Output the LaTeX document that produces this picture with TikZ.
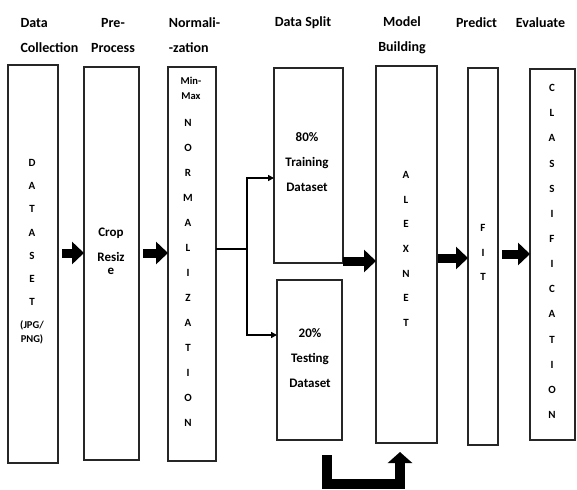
\documentclass[tikz,border=0pt]{standalone}
\usepackage{fontspec}
\setmainfont{Carlito}[UprightFont={* Bold}, BoldFont={* Bold}]
\usetikzlibrary{arrows.meta}
\begin{document}
\begin{tikzpicture}[x=1pt,y=-1pt,
  box/.style={draw=black!85, line width=1.3pt, inner sep=0pt, outer sep=0pt},
  hdr/.style={font=\fontsize{14}{25}\selectfont, inner sep=0pt},
  big/.style={font=\fontsize{13}{25}\selectfont, align=center, inner sep=0pt},
  small/.style={font=\fontsize{11}{25}\selectfont, align=center, inner sep=0pt},
  fat/.style={line width=9pt, -{Triangle[length=12pt,width=22pt]}},
  ufat/.style={line width=10pt, -{Triangle[length=11pt,width=24pt]}},
  thinarrow/.style={line width=1.8pt, -{Triangle[length=6pt,width=6pt]}}
]
\useasboundingbox (0,0) rectangle (577,489);
% headers
\node[hdr, align=left] (h1) at (49.5,35.5) {Data\\Collection};
\node[hdr, align=center] (h2) at (113,35.5) {Pre-\\Process};
\node[hdr, align=left] (h3) at (194.5,35.5) {Normali-\\-zation};
\node[hdr] (h4) at (303,23) {Data Split};
\node[hdr, align=center] (h5) at (402,35.5) {Model\\Building};
\node[hdr] (h6) at (476.5,23) {Predict};
\node[hdr] (h7) at (540.5,23) {Evaluate};
% boxes
\node[box, minimum width=50pt, minimum height=398pt] (ds) at (33,264) {};
\node[box, minimum width=55pt, minimum height=393pt] (crop) at (111.5,263.5) {};
\node[box, minimum width=48pt, minimum height=394pt] (norm) at (192,264) {};
\node[box, minimum width=69pt, minimum height=195pt] (train) at (308.5,165.5) {};
\node[box, minimum width=65pt, minimum height=160pt] (test) at (309.5,360) {};
\node[box, minimum width=61pt, minimum height=377pt] (alex) at (406.5,254.5) {};
\node[box, minimum width=30pt, minimum height=377pt] (fit) at (483,256.5) {};
\node[box, minimum width=45pt, minimum height=371pt] (cls) at (552.5,254.5) {};
% box texts
\node[small, font=\fontsize{11}{23.2}\selectfont] (dst) at (32,232.5) {D\\A\\T\\A\\S\\E\\T};
\node[small, font=\fontsize{10.5}{14}\selectfont] (dsf) at (32,332) {(JPG/\\PNG)};
\node[big] (cropt) at (111,244.5) {Crop\\Resiz};
\node[big] (crope) at (111,271) {e};
\node[small, font=\fontsize{10.5}{15}\selectfont] (normt) at (191,88) {Min-\\Max};
\node[small] (norml) at (188,273) {N\\O\\R\\M\\A\\L\\I\\Z\\A\\T\\I\\O\\N};
\node[big] (traint) at (307,162) {80\%\\Training\\Dataset};
\node[big] (testt) at (310,358) {20\%\\Testing\\Dataset};
\node[small, font=\fontsize{11}{24.7}\selectfont] (alext) at (406,249) {A\\L\\E\\X\\N\\E\\T};
\node[small, font=\fontsize{11}{24.5}\selectfont] (fitt) at (483,252.5) {F\\I\\T};
\node[small, font=\fontsize{11}{25.15}\selectfont] (clst) at (552,251.5) {C\\L\\A\\S\\S\\I\\F\\I\\C\\A\\T\\I\\O\\N};
% fat arrows
\draw[fat, shorten <=4pt] ([yshift=11pt]ds.east) -- ([yshift=11pt]ds.east -| crop.west);
\draw[fat, shorten <=4pt] ([yshift=10.5pt]crop.east) -- ([yshift=10.5pt]crop.east -| norm.west);
\draw[fat] ([yshift=2pt]train.south east) -- ([yshift=2pt]train.south east -| alex.west);
\draw[fat, shorten <=1pt] ([yshift=-3.5pt]alex.east) -- ([yshift=-3.5pt]alex.east -| fit.west);
\draw[fat, shorten <=4pt] ([yshift=2.5pt]fit.east) -- ([yshift=2.5pt]fit.east -| cls.west);
% split
\draw[line width=1.8pt] ([yshift=15pt]norm.east) -- ++(31,0) coordinate (sp);
\draw[thinarrow] (sp) |- ([yshift=-12.5pt]train.west);
\draw[thinarrow] (sp) |- ([yshift=25pt]test.west);
% U arrow
\draw[ufat] ([xshift=17.5pt,yshift=-15pt]test.south) -- ++(0,29) -| ([xshift=-6.5pt,yshift=-9pt]alex.south);
\end{tikzpicture}
\end{document}
